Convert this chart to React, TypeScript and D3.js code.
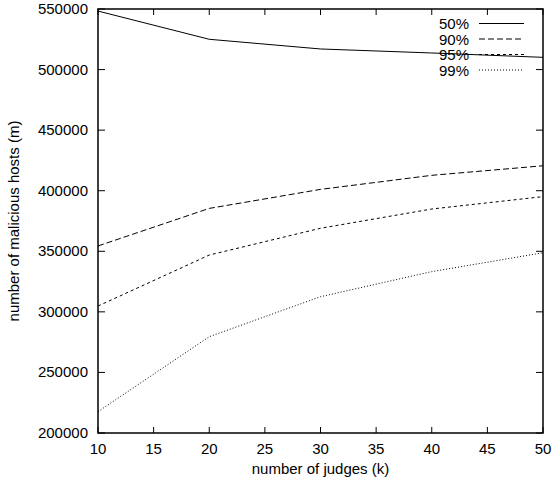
import React from 'react'
import * as d3 from 'd3'

const [W, H] = [553, 486]
const margin = { left: 98, right: 10, top: 9, bottom: 53 }

const judges = [10, 20, 30, 40, 50]
const series = ['50%', '90%', '95%', '99%']
const hosts50 = [548300, 525000, 517000, 513700, 510100]
const hosts90 = [354400, 385400, 401100, 412700, 420600]
const hosts95 = [304800, 346900, 369000, 384900, 395100]
const hosts99 = [217600, 279500, 312500, 333200, 348800]
const xTicks = [10, 15, 20, 25, 30, 35, 40, 45, 50]
const yTicks = [200000, 250000, 300000, 350000, 400000, 450000, 500000, 550000]

const dashes = ['none', '6,3', '3,3', '1,2']
const FONT = 'Liberation Sans, Arial, Helvetica, sans-serif'

export default function App() {
  const x = d3.scaleLinear().domain([10, 50]).range([margin.left, W - margin.right])
  const y = d3.scaleLinear().domain([200000, 550000]).range([H - margin.bottom, margin.top])
  const line = d3.line<[number, number]>().x(d => x(d[0])).y(d => y(d[1]))
  const all = [hosts50, hosts90, hosts95, hosts99]
  const [x0, x1] = x.range()
  const [y0, y1] = y.range()

  return (
    <svg width={W} height={H} style={{ position: 'absolute', left: 0, top: 0 }}>
      <g fontFamily={FONT} fontSize={15} fill="#000">
        {all.map((vals, i) => (
          <path key={i} d={line(vals.map((v, j) => [judges[j], v]))!} fill="none"
            stroke="#000" strokeWidth={1} strokeDasharray={dashes[i]} />
        ))}
        {xTicks.map(t => (
          <g key={t}>
            <line x1={x(t)} x2={x(t)} y1={y0} y2={y0 - 6} stroke="#000" />
            <line x1={x(t)} x2={x(t)} y1={y1} y2={y1 + 6} stroke="#000" />
            <text x={x(t)} y={454} textAnchor="middle">{t}</text>
          </g>
        ))}
        {yTicks.map(t => (
          <g key={t}>
            <line x1={x0} x2={x0 + 7} y1={y(t)} y2={y(t)} stroke="#000" />
            <line x1={x1} x2={x1 - 7} y1={y(t)} y2={y(t)} stroke="#000" />
            <text x={88} y={y(t) + 5} textAnchor="end">{t}</text>
          </g>
        ))}
        <rect x={x0} y={y1} width={x1 - x0} height={y0 - y1} fill="none" stroke="#000" strokeWidth={1.5} />
        {series.map((s, i) => (
          <g key={s}>
            <text x={469} y={29 + i * 15.5} textAnchor="end">{s}</text>
            <line x1={479} x2={524} y1={23.5 + i * 15.5} y2={23.5 + i * 15.5}
              stroke="#000" strokeDasharray={dashes[i]} />
          </g>
        ))}
        <text x={(x0 + x1) / 2} y={474} textAnchor="middle">number of judges (k)</text>
        <text transform={`translate(19, ${(y0 + y1) / 2}) rotate(-90)`} textAnchor="middle">
          number of malicious hosts (m)
        </text>
      </g>
    </svg>
  )
}
